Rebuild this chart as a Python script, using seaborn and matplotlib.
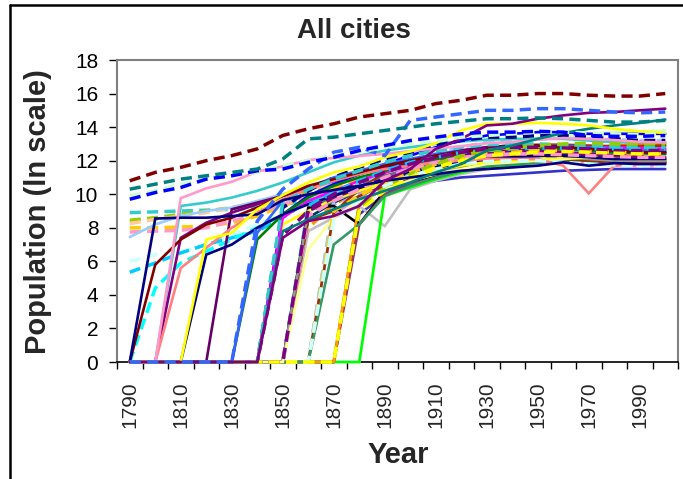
import matplotlib
matplotlib.use("Agg")
import matplotlib.pyplot as plt
import seaborn as sns
import pandas as pd
from matplotlib.lines import Line2D

# census decades, 1790-2000 (one category each)
years = [1790, 1800, 1810, 1820, 1830, 1840, 1850, 1860, 1870, 1880, 1890,
         1900, 1910, 1920, 1930, 1940, 1950, 1960, 1970, 1980, 1990, 2000]

# ln(population), 0 = no data yet
new_york = [10.8, 11.3, 11.6, 12.0, 12.3, 12.7, 13.5, 13.9, 14.2, 14.6, 14.8, 15.0, 15.4, 15.6, 15.9, 15.9, 16.0, 16.0, 15.9, 15.85, 15.85, 16.0]
philadelphia = [10.3, 10.6, 10.9, 11.1, 11.3, 11.5, 12.1, 13.3, 13.4, 13.6, 13.8, 14.0, 14.2, 14.35, 14.5, 14.5, 14.55, 14.5, 14.4, 14.3, 14.3, 14.4]
boston = [9.7, 10.1, 10.4, 10.9, 11.1, 11.4, 11.5, 11.9, 12.2, 12.6, 12.9, 13.2, 13.4, 13.6, 13.7, 13.7, 13.75, 13.7, 13.5, 13.45, 13.45, 13.5]
baltimore = [9.9, 10.2, 10.6, 10.9, 11.1, 11.3, 11.7, 12.0, 12.3, 12.5, 12.8, 13.0, 13.2, 13.4, 13.5, 13.6, 13.7, 13.7, 13.65, 13.6, 13.55, 13.6]
chicago = [0, 0, 0, 0, 0, 8.4, 10.3, 11.5, 12.5, 12.8, 12.3, 14.4, 14.6, 14.8, 15.0, 15.0, 15.1, 15.1, 15.0, 14.9, 14.85, 14.9]
los_angeles = [0, 0, 0, 0, 0, 0, 7.4, 8.4, 8.7, 9.3, 10.8, 11.5, 12.7, 13.3, 14.1, 14.2, 14.5, 14.7, 14.85, 14.9, 15.0, 15.1]
detroit = [0, 0, 0, 7.3, 7.7, 9.1, 9.95, 10.7, 11.3, 11.65, 12.2, 12.55, 13.05, 13.8, 14.2, 14.2, 14.25, 14.2, 14.1, 13.9, 13.75, 13.65]
houston = [0, 0, 0, 0, 0, 0, 7.8, 8.5, 9.1, 9.7, 10.2, 10.7, 11.3, 11.8, 12.6, 12.9, 13.3, 13.65, 13.9, 14.1, 14.25, 14.45]
new_orleans = [0, 0, 9.76, 10.35, 10.74, 11.35, 11.66, 12.04, 12.16, 12.28, 12.4, 12.57, 12.73, 12.87, 13.04, 13.11, 13.25, 13.35, 13.29, 13.23, 13.12, 13.09]
savannah = [0, 8.55, 8.6, 8.6, 8.7, 8.8, 9.64, 10.0, 10.25, 10.5, 10.8, 11.0, 11.2, 11.4, 11.5, 11.6, 11.7, 11.9, 11.7, 11.85, 11.8, 11.8]
city_a = [8.9, 8.95, 9.0, 9.05, 9.1, 9.2, 9.4, 9.6, 10.0, 10.5, 11.0, 11.5, 11.9, 12.2, 12.4, 12.45, 12.45, 12.45, 12.4, 12.35, 12.3, 12.3]
city_b = [8.45, 8.6, 8.8, 9.0, 9.2, 9.5, 9.8, 10.2, 10.6, 10.9, 11.2, 11.5, 11.8, 12.0, 12.1, 12.15, 12.2, 12.2, 12.15, 12.1, 12.1, 12.1]
city_c = [8.25, 8.5, 8.7, 8.9, 9.2, 9.5, 9.9, 10.3, 10.6, 10.9, 11.2, 11.5, 11.8, 12.1, 12.4, 12.5, 12.6, 12.7, 12.7, 12.7, 12.7, 12.75]
city_d = [8.0, 8.0, 8.05, 8.1, 8.3, 8.7, 9.3, 9.9, 10.4, 10.8, 11.1, 11.5, 11.8, 12.1, 12.2, 12.25, 12.3, 12.3, 12.2, 12.1, 12.05, 12.0]
city_e = [7.75, 7.8, 7.85, 8.0, 8.4, 8.9, 9.4, 9.9, 10.2, 10.5, 10.8, 11.1, 11.4, 11.6, 11.8, 11.85, 11.9, 11.9, 11.8, 11.75, 11.7, 11.7]
city_f = [7.45, 8.2, 8.7, 9.0, 9.2, 9.6, 10.0, 10.4, 10.7, 11.0, 11.3, 11.6, 11.9, 12.1, 12.3, 12.4, 12.5, 12.6, 12.6, 12.6, 12.55, 12.6]
city_g = [6.0, 6.4, 6.55, 7.0, 7.6, 8.2, 8.8, 9.4, 9.9, 10.3, 10.7, 11.0, 11.3, 11.6, 11.8, 11.9, 12.0, 12.0, 11.95, 11.9, 11.85, 11.8]
city_h = [5.35, 5.9, 6.5, 7.0, 7.4, 7.8, 8.6, 9.6, 10.1, 10.5, 10.9, 11.2, 11.5, 11.7, 11.9, 12.0, 12.1, 12.2, 12.3, 12.35, 12.4, 12.45]
city_i = [0, 4.4, 5.9, 6.6, 7.3, 8.0, 8.8, 9.5, 10.0, 10.4, 10.8, 11.1, 11.4, 11.6, 11.8, 11.9, 11.95, 11.95, 11.9, 11.85, 11.8, 11.8]
city_j = [0, 5.8, 7.3, 8.2, 8.6, 9.2, 9.9, 10.5, 10.9, 11.3, 11.7, 12.0, 12.3, 12.5, 12.7, 12.8, 12.9, 12.85, 12.7, 12.6, 12.5, 12.5]
city_k = [0, 0, 5.6, 6.8, 8.0, 8.9, 9.7, 10.3, 10.8, 11.2, 11.5, 11.7, 11.9, 12.0, 12.1, 12.1, 12.1, 11.7, 10.05, 11.7, 11.8, 11.8]
city_l = [0, 0, 7.4, 8.3, 8.9, 9.4, 9.9, 10.4, 10.8, 11.2, 11.6, 11.9, 12.2, 12.4, 12.5, 12.6, 12.6, 12.5, 12.4, 12.3, 12.2, 12.2]
city_m = [0, 0, 0, 6.4, 7.0, 8.0, 8.8, 9.4, 9.9, 10.4, 10.9, 11.3, 11.6, 11.9, 12.1, 12.2, 12.3, 12.3, 12.2, 12.1, 12.1, 12.1]
city_n = [0, 0, 0, 0, 9.1, 9.5, 9.9, 10.4, 10.8, 11.2, 11.6, 12.0, 12.3, 12.6, 12.8, 12.9, 12.9, 12.8, 12.7, 12.6, 12.5, 12.5]
city_o = [0, 0, 0, 0, 0, 7.7, 9.6, 10.4, 11.0, 11.4, 11.8, 12.1, 12.4, 12.6, 12.8, 12.9, 12.9, 12.9, 12.8, 12.7, 12.6, 12.6]
city_p = [0, 0, 0, 0, 0, 7.3, 8.8, 9.8, 10.5, 11.0, 11.4, 11.8, 12.1, 12.3, 12.5, 12.6, 12.7, 12.7, 12.6, 12.5, 12.45, 12.4]
city_q = [0, 0, 0, 0, 0, 0, 8.6, 9.6, 10.2, 10.8, 11.3, 11.7, 12.0, 12.3, 12.5, 12.6, 12.7, 12.8, 12.8, 12.8, 12.75, 12.7]
city_r = [0, 0, 0, 0, 0, 0, 7.55, 9.0, 9.8, 10.4, 10.9, 11.3, 11.6, 11.9, 12.1, 12.2, 12.3, 12.3, 12.3, 12.3, 12.3, 12.3]
city_s = [0, 0, 0, 0, 0, 0, 8.2, 9.0, 9.7, 10.2, 10.7, 11.1, 11.4, 11.7, 11.9, 12.0, 12.1, 12.2, 12.2, 12.2, 12.1, 12.1]
city_t = [0, 0, 0, 0, 0, 0, 0, 6.7, 8.6, 9.6, 10.3, 10.8, 11.2, 11.5, 11.8, 11.9, 12.0, 12.1, 12.2, 12.2, 12.2, 12.2]
city_u = [0, 0, 0, 0, 0, 0, 0, 9.0, 9.6, 10.2, 10.7, 11.1, 11.5, 11.8, 12.0, 12.1, 12.2, 12.2, 12.1, 12.0, 12.0, 12.0]
city_v = [0, 0, 0, 0, 0, 0, 0, 8.45, 9.0, 9.9, 10.5, 11.0, 11.4, 11.7, 11.9, 12.0, 12.1, 12.1, 12.0, 11.9, 11.9, 11.9]
city_w = [0, 0, 0, 0, 0, 0, 0, 0, 7.0, 8.2, 9.9, 10.5, 11.0, 11.4, 11.7, 11.8, 11.9, 12.0, 12.0, 12.0, 12.0, 12.0]
city_x = [0, 0, 0, 0, 0, 0, 0, 0, 0, 9.5, 10.3, 10.8, 11.2, 11.5, 11.8, 11.9, 12.0, 12.2, 12.3, 12.3, 12.4, 12.5]
city_y = [0, 0, 0, 0, 0, 0, 0, 0, 0, 8.2, 10.0, 10.6, 11.0, 11.4, 11.7, 11.8, 11.9, 12.0, 12.0, 11.95, 11.9, 11.9]
city_z = [0, 0, 0, 0, 0, 0, 0, 9.2, 9.3, 8.2, 10.2, 10.7, 11.1, 11.5, 11.8, 11.9, 12.0, 12.1, 12.0, 11.9, 11.9, 11.9]
city_aa = [0, 0, 0, 0, 0, 0, 0, 0, 0, 0, 9.9, 10.4, 10.9, 11.3, 11.6, 11.7, 11.9, 12.1, 12.2, 12.3, 12.4, 12.5]
city_ab = [0, 0, 0, 0, 0, 0, 0, 7.8, 8.6, 9.3, 8.1, 10.3, 10.8, 11.2, 11.5, 11.6, 11.8, 12.0, 12.1, 12.1, 12.2, 12.3]
city_ac = [0, 0, 0, 0, 0, 0, 8.8, 9.9, 10.6, 11.2, 11.8, 12.3, 12.8, 13.2, 13.5, 13.6, 13.7, 13.7, 13.6, 13.6, 13.6, 13.6]
city_ad = [0, 0, 0, 0, 0, 0, 9.2, 10.2, 11.0, 11.6, 12.1, 12.5, 12.9, 13.2, 13.4, 13.4, 13.5, 13.5, 13.4, 13.3, 13.2, 13.2]
city_ae = [0, 0, 9.3, 9.5, 9.8, 10.2, 10.7, 11.3, 11.9, 12.3, 12.6, 12.8, 13.0, 13.15, 13.25, 13.3, 13.3, 13.3, 13.2, 13.1, 13.1, 13.1]
city_af = [0, 0, 0, 0, 0, 0, 0, 0, 8.8, 9.8, 10.5, 11.0, 11.4, 11.7, 12.0, 12.2, 12.4, 12.5, 12.6, 12.6, 12.7, 12.8]
city_ag = [0, 0, 0, 0, 0, 0, 0, 9.0, 9.9, 10.6, 11.1, 11.5, 11.9, 12.2, 12.4, 12.5, 12.6, 12.6, 12.5, 12.4, 12.4, 12.4]
city_ah = [0, 0, 0, 0, 0, 0, 0, 0, 0, 9.4, 10.5, 11.0, 11.5, 11.9, 12.2, 12.3, 12.5, 12.7, 12.8, 12.9, 13.0, 13.0]
city_ai = [0, 0, 0, 0, 0, 0, 0, 8.6, 9.5, 10.2, 10.8, 11.3, 11.7, 12.0, 12.2, 12.3, 12.4, 12.4, 12.3, 12.2, 12.1, 12.1]
city_aj = [0, 0, 0, 0, 0, 0, 0, 0, 8.9, 10.3, 11.3, 11.8, 12.3, 12.6, 12.85, 12.9, 12.95, 12.95, 12.9, 12.85, 12.85, 12.9]
city_ak = [0, 0, 0, 0, 0, 0, 0, 8.9, 9.8, 10.5, 11.0, 11.4, 11.7, 11.9, 12.1, 12.15, 12.2, 12.2, 12.2, 12.15, 12.1, 12.1]
city_al = [0, 0, 0, 0, 0, 0, 0, 0, 9.4, 10.1, 10.8, 11.3, 11.7, 12.0, 12.3, 12.4, 12.5, 12.5, 12.5, 12.4, 12.4, 12.4]
city_am = [0, 0, 0, 0, 0, 0, 0, 0, 0, 8.8, 10.0, 10.6, 10.8, 11.0, 11.1, 11.2, 11.3, 11.4, 11.45, 11.5, 11.5, 11.5]
city_ao = [0, 0, 0, 0, 0, 0, 0, 0, 9.6, 10.6, 11.4, 11.9, 12.4, 12.8, 13.1, 13.2, 13.3, 13.35, 13.3, 13.25, 13.2, 13.2]
city_ap = [0, 0, 0, 0, 0, 0, 0, 0, 0, 0, 9.8, 10.9, 11.9, 12.5, 12.9, 13.1, 13.3, 13.5, 13.6, 13.7, 13.75, 13.8]
city_aq = [0, 0, 0, 0, 0, 0, 0, 8.0, 9.4, 10.2, 10.9, 11.4, 11.8, 12.1, 12.3, 12.4, 12.5, 12.6, 12.6, 12.55, 12.5, 12.5]
city_ar = [0, 0, 0, 0, 0, 0, 0, 9.3, 10.1, 10.8, 11.4, 11.9, 12.2, 12.5, 12.6, 12.7, 12.75, 12.75, 12.7, 12.7, 12.7, 12.7]
city_as = [0, 0, 0, 0, 0, 0, 0, 0, 9.0, 9.9, 10.7, 11.3, 11.8, 12.1, 12.4, 12.5, 12.6, 12.6, 12.55, 12.5, 12.45, 12.4]
city_at = [0, 0, 0, 0, 0, 0, 9.5, 10.3, 10.9, 11.4, 11.9, 12.3, 12.6, 12.8, 12.95, 13.0, 13.0, 12.95, 12.9, 12.85, 12.8, 12.8]
city_au = [0, 0, 0, 0, 0, 0, 0, 8.7, 9.6, 10.3, 11.0, 11.5, 11.9, 12.2, 12.3, 12.4, 12.4, 12.35, 12.3, 12.25, 12.2, 12.2]
city_av = [0, 0, 0, 0, 0, 0, 0, 0, 0, 9.2, 10.4, 11.2, 11.8, 12.3, 12.6, 12.75, 12.9, 13.0, 13.05, 13.0, 13.0, 13.0]
city_aw = [0, 0, 0, 0, 0, 0, 0, 0, 8.5, 9.6, 10.5, 11.1, 11.5, 11.8, 11.95, 12.0, 12.0, 11.9, 11.8, 11.75, 11.7, 11.7]
city_ax = [0, 0, 0, 0, 0, 0, 0, 9.1, 10.0, 10.7, 11.3, 11.8, 12.2, 12.5, 12.7, 12.8, 12.8, 12.75, 12.7, 12.6, 12.6, 12.6]
city_ay = [0, 0, 0, 0, 0, 0, 0, 0, 0, 9.0, 10.2, 11.0, 11.6, 12.0, 12.3, 12.4, 12.5, 12.55, 12.5, 12.45, 12.4, 12.4]

# (name, values, colour, dashed) in Excel drawing order
series = [
    ("city_a", city_a, "#33CCCC", True), ("city_b", city_b, "#99CC00", True),
    ("city_c", city_c, "#FFCC99", True), ("city_d", city_d, "#FFCC00", True),
    ("city_e", city_e, "#FF99CC", True), ("city_f", city_f, "#99CCFF", False),
    ("city_g", city_g, "#CCFFFF", True), ("city_h", city_h, "#00CCFF", True),
    ("city_i", city_i, "#00FFFF", True), ("city_am", city_am, "#3333CC", False),
    ("city_aq", city_aq, "#FF9900", True), ("city_ak", city_ak, "#FF00FF", True),
    ("city_al", city_al, "#CC99FF", True), ("city_ai", city_ai, "#003366", False),
    ("city_ag", city_ag, "#666699", False), ("city_af", city_af, "#CC99FF", False),
    ("city_ah", city_ah, "#FF6600", False), ("city_aj", city_aj, "#993300", False),
    ("city_ao", city_ao, "#99CCFF", True), ("city_ap", city_ap, "#CCFFCC", False),
    ("city_ae", city_ae, "#33CCCC", False), ("city_ad", city_ad, "#000080", True),
    ("city_ac", city_ac, "#0000FF", False), ("city_ab", city_ab, "#C0C0C0", False),
    ("city_aa", city_aa, "#00FF00", False), ("city_z", city_z, "#000000", False),
    ("city_y", city_y, "#993366", False), ("city_x", city_x, "#FF9900", False),
    ("city_w", city_w, "#339966", False), ("city_v", city_v, "#993300", False),
    ("city_u", city_u, "#969696", False), ("city_t", city_t, "#FFFF99", False),
    ("city_s", city_s, "#FFFF00", False), ("city_r", city_r, "#800080", True),
    ("city_q", city_q, "#FF00FF", False), ("city_p", city_p, "#008000", False),
    ("city_o", city_o, "#3366FF", False), ("city_n", city_n, "#660066", False),
    ("city_m", city_m, "#000080", False), ("city_l", city_l, "#800080", False),
    ("city_k", city_k, "#FF8080", False), ("city_j", city_j, "#800000", False),
    ("city_ar", city_ar, "#00CCFF", True), ("city_as", city_as, "#FFCC00", True),
    ("city_at", city_at, "#33CCCC", True), ("city_au", city_au, "#FF99CC", True),
    ("city_av", city_av, "#99CC00", True), ("city_aw", city_aw, "#CCFFFF", True),
    ("city_ax", city_ax, "#800080", True), ("city_ay", city_ay, "#FFFF00", True),
    ("savannah", savannah, "#000080", False), ("new_orleans", new_orleans, "#FF99CC", False),
    ("houston", houston, "#008080", False), ("detroit", detroit, "#FFFF00", False),
    ("los_angeles", los_angeles, "#800080", False), ("chicago", chicago, "#3366FF", True),
    ("baltimore", baltimore, "#CCFFCC", True), ("boston", boston, "#0000FF", True),
    ("philadelphia", philadelphia, "#008080", True), ("new_york", new_york, "#800000", True),
]

rows = []
for name, vals, _, _ in series:
    for i, v in enumerate(vals):
        rows.append({"city": name, "pos": i, "year": years[i], "value": v})
df = pd.DataFrame(rows)

order = [s[0] for s in series]
palette = {s[0]: s[2] for s in series}
dash_map = {s[0]: ((3.2, 1.8) if s[3] else "") for s in series}

sns.set_style("white")
plt.rcParams["font.family"] = ["Liberation Sans", "DejaVu Sans"]

fig = plt.figure(figsize=(6.83, 4.79), dpi=100)
ax = fig.add_axes([117 / 683, 1 - 362 / 479, 561 / 683, 302 / 479])

sns.lineplot(data=df, x="pos", y="value", hue="city", style="city",
             hue_order=order, style_order=order, palette=palette,
             dashes=dash_map, estimator=None, sort=False, legend=False,
             linewidth=1.9, ax=ax)

for ln in ax.lines:
    ln.set_clip_on(False)
    ln.set_zorder(3)
    ln.set_solid_joinstyle("miter")
    ln.set_dash_capstyle("butt")
    if ln.get_linestyle() not in ("-", "solid"):
        ln.set_linewidth(2.5)

ax.set_xlim(-0.5, len(years) - 0.5)
ax.set_ylim(0, 18)
ax.set_yticks(range(0, 19, 2))
ax.tick_params(axis="y", labelsize=15, length=5.5, width=1, pad=8, colors="black", left=True)

# ticks on category boundaries, labels every other decade
ax.set_xticks([i - 0.5 for i in range(len(years) + 1)])
ax.set_xticklabels([])
ax.set_xticks(range(0, len(years), 2), minor=True)
ax.set_xticklabels([str(y) for y in years[::2]], minor=True, rotation=90)
ax.tick_params(axis="x", which="major", length=5, width=1, bottom=True, colors="black")
ax.tick_params(axis="x", which="minor", length=0, labelsize=15, pad=14)
ax.set_xlabel("")
ax.set_ylabel("")

for side in ["top", "right", "left"]:
    ax.spines[side].set_color("#808080")
    ax.spines[side].set_linewidth(1.5)
ax.spines["bottom"].set_color("black")
ax.spines["bottom"].set_linewidth(1.2)

fig.text(354 / 683, 1 - 31 / 479, "All cities", ha="center", va="center",
         fontsize=20, fontweight="bold")
fig.text(38 / 683, 1 - 212 / 479, "Population (ln scale)", ha="center", va="center",
         rotation=90, fontsize=21, fontweight="bold")
fig.text(398 / 683, 1 - 455 / 479, "Year", ha="center", va="center",
         fontsize=21, fontweight="bold")

# chart-area border visible at top and left of the crop
fig.add_artist(Line2D([10 / 683, 1], [1 - 5 / 479, 1 - 5 / 479],
                      transform=fig.transFigure, color="black", lw=1.8))
fig.add_artist(Line2D([10 / 683, 10 / 683], [0, 1 - 5 / 479],
                      transform=fig.transFigure, color="black", lw=1.8))

fig.savefig("out.png", dpi=100)
